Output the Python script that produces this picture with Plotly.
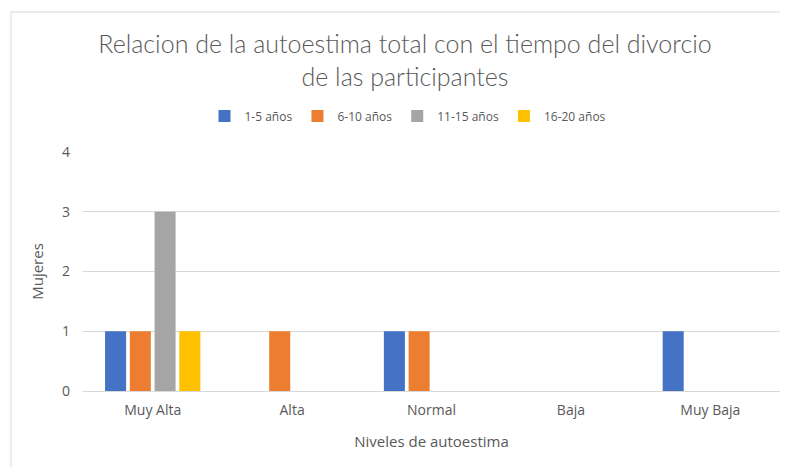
import plotly.graph_objects as go

categories = ["Muy Alta", "Alta", "Normal", "Baja", "Muy Baja"]
series_names = ["1-5 años", "6-10 años", "11-15 años", "16-20 años"]
s1 = [1, 0, 1, 0, 1]
s2 = [1, 1, 1, 0, 0]
s3 = [3, 0, 0, 0, 0]
s4 = [1, 0, 0, 0, 0]
colors = ["#4472C4", "#ED7D31", "#A5A5A5", "#FFC000"]
y_ticks = [0, 1, 2, 3, 4]

fig = go.Figure()
for name, vals, col in zip(series_names, [s1, s2, s3, s4], colors):
    fig.add_trace(go.Bar(x=categories, y=vals, name=name, marker_color=col,
                         marker_line_width=0))

# page body has an 8px default margin, so the figure is drawn 8px in
OFF = 8
W, H = 788 - OFF, 467 - OFF
L, R, T, B = 83 - OFF, 8, 152 - OFF, 76
pw, ph = W - L - R, H - T - B

def px_x(p):
    return (p - OFF - L) / pw

def px_y(p):
    return (H - B - (p - OFF)) / ph

grey = "#595959"
fig.update_layout(
    width=W, height=H,
    margin=dict(l=L, r=R, t=T, b=B),
    paper_bgcolor="white", plot_bgcolor="white",
    barmode="group", bargap=0.29, bargroupgap=0.15,
    font=dict(family="Open Sans", color=grey, size=13),
    title=dict(text="Relacion de la autoestima total con el tiempo del divorcio<br>de las participantes",
               x=(405 - OFF) / W, xref="container", xanchor="center",
               y=1 - (53 - OFF) / H, yref="container", yanchor="middle",
               font=dict(family="Lato", size=25, color=grey, weight=300)),
    legend=dict(orientation="h", x=(408 - OFF) / W, xref="container", xanchor="center",
                y=1 - (116 - OFF) / H, yref="container", yanchor="middle",
                font=dict(size=12, color=grey), traceorder="normal"),
    xaxis=dict(showgrid=False, showline=True, linecolor="#D9D9D9", linewidth=1,
               ticks="", tickfont=dict(size=14, color=grey), ticklabelstandoff=6,
               title=dict(text="Niveles de autoestima", font=dict(size=15, color=grey), standoff=18)),
    yaxis=dict(range=[0, 4], tickvals=y_ticks, showgrid=True, gridcolor="#D9D9D9",
               zeroline=False, showline=False, ticks="",
               tickfont=dict(size=14, color=grey), ticklabelstandoff=12,
               title=dict(text="Mujeres", font=dict(size=15, color=grey), standoff=14)),
    shapes=[dict(type="rect", xref="paper", yref="paper",
                 x0=px_x(11), x1=px_x(790), y0=px_y(470), y1=px_y(12),
                 line=dict(color="#D9D9D9", width=1), fillcolor="rgba(0,0,0,0)",
                 layer="below")],
)

fig.write_html("out.html")
